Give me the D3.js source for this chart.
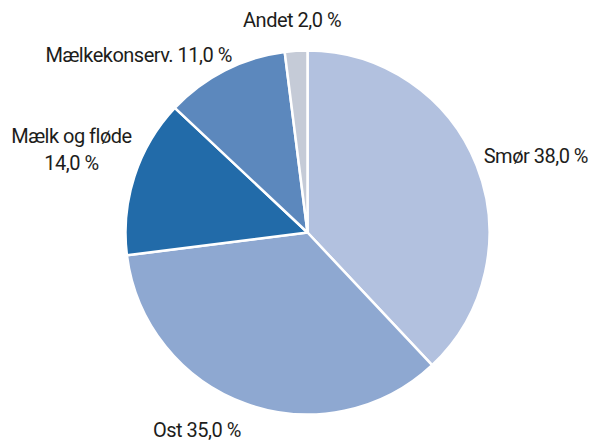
<!DOCTYPE html>
<html lang="da">
<head>
<meta charset="utf-8">
<title>Mejeriprodukter</title>
<script src="https://cdn.jsdelivr.net/npm/d3@7"></script>
<style>
  body { margin: 0; background: #fff; }
  text { font-family: Roboto, "Open Sans", sans-serif; font-size: 20px; letter-spacing: -0.5px; fill: #1d1d1b; }
</style>
</head>
<body>
<script>
// data
var categories = ["Smør", "Ost", "Mælk og fløde", "Mælkekonserv.", "Andet"];
var shares = [38.0, 35.0, 14.0, 11.0, 2.0];
var colours = ["#b2c1df", "#8ea8d1", "#226ba9", "#5c88bd", "#c5cbd7"];

var width = 590, height = 441;
var cx = 307.5, cy = 232.5, r = 182;

// label placement relative to the outer edge of each slice (anchor, dx, dy)
var labelPos = {
  "Smør": ["start", 7, -3],
  "Ost": ["end", -5, 33],
  "Mælk og fløde": ["middle", -63, -33],
  "Mælkekonserv.": ["end", 7, -8],
  "Andet": ["middle", -4, -24]
};

var fmt = function (v) { return d3.format(".1f")(v).replace(".", ",") + " %"; };

var svg = d3.select("body").append("svg")
  .attr("width", width)
  .attr("height", height);

var g = svg.append("g")
  .attr("transform", "translate(" + cx + "," + cy + ")");

var data = categories.map(function (c, i) { return { name: c, value: shares[i], colour: colours[i] }; });

var pie = d3.pie().sort(null).value(function (d) { return d.value; });
var arc = d3.arc().innerRadius(0).outerRadius(r);
var edge = d3.arc().innerRadius(r).outerRadius(r);

var arcs = pie(data);

g.selectAll("path")
  .data(arcs)
  .enter()
  .append("path")
  .attr("d", arc)
  .attr("fill", function (d) { return d.data.colour; })
  .attr("stroke", "#fff")
  .attr("stroke-width", 2.5)
  .attr("stroke-linejoin", "round");

var labels = g.selectAll("text.lbl")
  .data(arcs)
  .enter()
  .append("text")
  .attr("class", "lbl")
  .attr("text-anchor", function (d) { return labelPos[d.data.name][0]; })
  .attr("transform", function (d) {
    var p = edge.centroid(d);
    var o = labelPos[d.data.name];
    return "translate(" + (p[0] + o[1]) + "," + (p[1] + o[2]) + ")";
  });

labels.each(function (d) {
  var t = d3.select(this);
  if (d.data.name === "Mælk og fløde") {
    t.append("tspan").attr("x", 0).attr("y", 0).text(d.data.name);
    t.append("tspan").attr("x", 0).attr("y", 27).text(fmt(d.data.value));
  } else {
    t.text(d.data.name + " " + fmt(d.data.value));
  }
});
</script>
</body>
</html>
